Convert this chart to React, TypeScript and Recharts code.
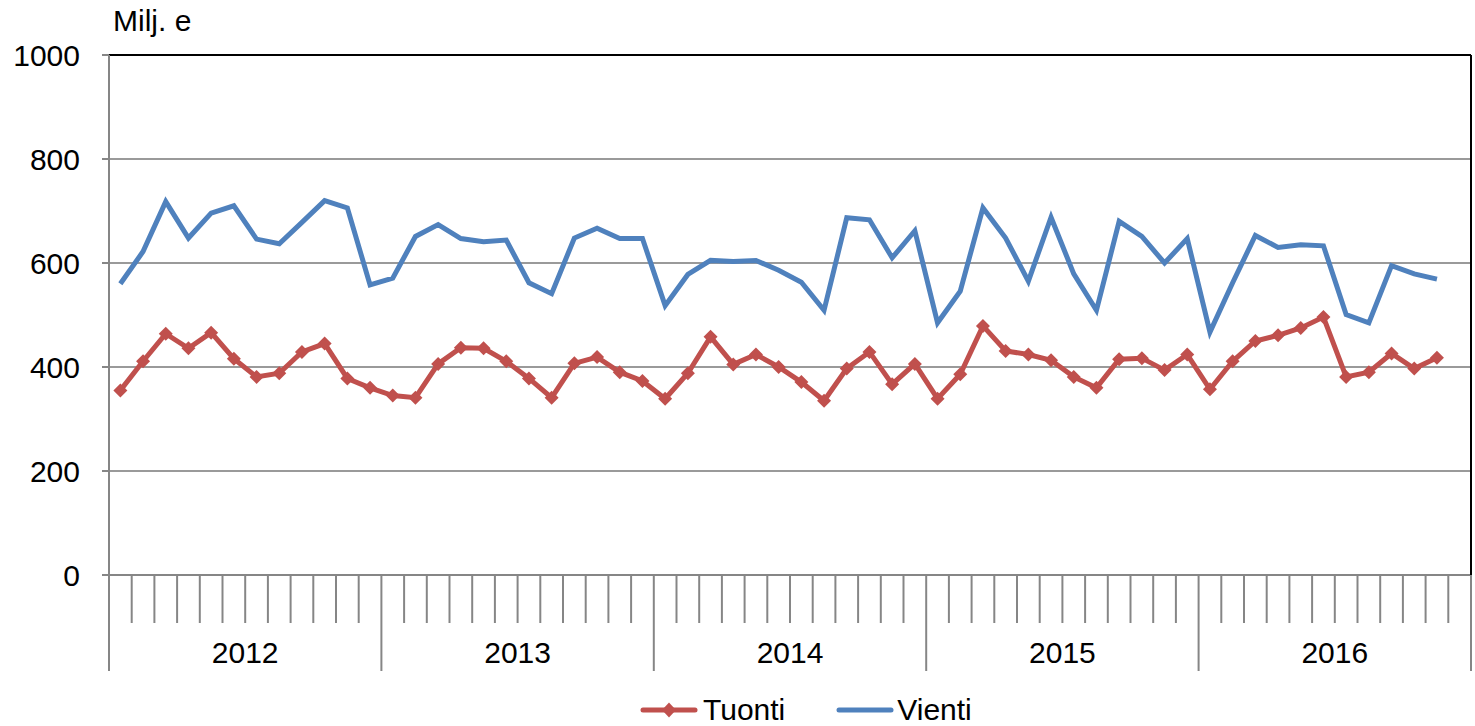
import { CartesianGrid, Legend, Line, LineChart, ReferenceLine, XAxis, YAxis } from "recharts";

const years = ["2012", "2013", "2014", "2015", "2016"];

// months Jan 2012 .. Dec 2016 (last one has no data yet)
const months = years.flatMap((y) =>
  ["01", "02", "03", "04", "05", "06", "07", "08", "09", "10", "11", "12"].map((m) => `${y}-${m}`)
);

const tuonti = [
  355, 411, 464, 436, 466, 416, 381, 388, 429, 445, 378, 360,
  345, 341, 406, 437, 436, 411, 378, 341, 407, 419, 390, 373,
  339, 388, 458, 405, 424, 400, 371, 335, 397, 429, 367, 406,
  339, 386, 479, 431, 424, 413, 381, 360, 415, 417, 394, 424,
  357, 411, 450, 461, 475, 496, 381, 390, 426, 397, 418,
];

const vienti = [
  560, 622, 718, 648, 696, 710, 646, 637, 678, 720, 706, 558,
  571, 651, 674, 647, 641, 644, 562, 541, 648, 667, 647, 647,
  518, 578, 605, 603, 605, 586, 563, 509, 687, 683, 610, 662,
  485, 546, 706, 648, 565, 688, 579, 509, 680, 651, 600, 647,
  467, 562, 653, 630, 635, 633, 501, 485, 595, 579, 569,
];

const yTicks = [0, 200, 400, 600, 800, 1000];

const data = months.map((m, i) => ({
  month: m,
  tuonti: i < tuonti.length ? tuonti[i] : null,
  vienti: i < vienti.length ? vienti[i] : null,
}));

const W = 1475;
const H = 726;
const LEFT = 109;
const RIGHT = 4;
const BAND = (W - LEFT - RIGHT) / months.length;
const FONT = "'Liberation Sans', Arial, sans-serif";
const RED = "#C0504D";
const BLUE = "#4F81BD";
const AXIS = "#868686";

const MonthTick = (props: any) => {
  const { x, y, index } = props;
  const left = x - BAND / 2;
  const isYearStart = index % 12 === 0;
  return (
    <g>
      <line x1={left} x2={left} y1={y} y2={y + (isYearStart ? 96 : 48)} stroke={AXIS} strokeWidth={2} />
      {index === months.length - 1 && (
        <line x1={x + BAND / 2} x2={x + BAND / 2} y1={y} y2={y + 96} stroke={AXIS} strokeWidth={2} />
      )}
      {index % 12 === 5 && (
        <text x={x + BAND / 2} y={y + 88} textAnchor="middle" fontSize={30} fontFamily={FONT} fill="#000">
          {years[Math.floor(index / 12)]}
        </text>
      )}
    </g>
  );
};

const Diamond = (props: any) => {
  const { cx, cy } = props;
  if (cx == null || cy == null) return null;
  const r = 7;
  return (
    <polygon
      key={props.index}
      points={`${cx},${cy - r} ${cx + r},${cy} ${cx},${cy + r} ${cx - r},${cy}`}
      fill={RED}
    />
  );
};

const renderLegend = () => (
  <div
    style={{
      display: "flex",
      alignItems: "center",
      marginLeft: 640,
      paddingTop: 7,
      lineHeight: "34px",
      fontFamily: FONT,
      fontSize: 30,
    }}
  >
    <svg width={58} height={20}>
      <line x1={3} x2={55} y1={10} y2={10} stroke={RED} strokeWidth={5} strokeLinecap="round" />
      <polygon points="29,2.5 36,10 29,17.5 22,10" fill={RED} />
    </svg>
    <span style={{ marginLeft: 5 }}>Tuonti</span>
    <svg width={58} height={20} style={{ marginLeft: 51 }}>
      <line x1={3} x2={55} y1={10} y2={10} stroke={BLUE} strokeWidth={5} strokeLinecap="round" />
    </svg>
    <span style={{ marginLeft: 3 }}>Vienti</span>
  </div>
);

const App = () => {
  return (
    <div style={{ position: "absolute", left: 0, top: 0, width: W, height: H, background: "#fff" }}>
      <div style={{ position: "absolute", left: 113, top: 4, fontFamily: FONT, fontSize: 30 }}>Milj. e</div>
      <LineChart width={W} height={H} data={data} margin={{ top: 55, right: 0, left: 0, bottom: 0 }}>
        <CartesianGrid vertical={false} stroke="#9A9A9A" strokeWidth={2} />
        <XAxis
          dataKey="month"
          scale="band"
          interval={0}
          height={111}
          tickSize={0}
          tickMargin={0}
          tickLine={false}
          axisLine={{ stroke: AXIS, strokeWidth: 2 }}
          tick={<MonthTick />}
        />
        <YAxis
          width={LEFT}
          domain={[0, 1000]}
          ticks={yTicks}
          tickSize={7}
          tickMargin={22}
          axisLine={{ stroke: AXIS, strokeWidth: 2 }}
          tickLine={{ stroke: AXIS, strokeWidth: 2 }}
          tick={{ fill: "#000", fontSize: 30, fontFamily: FONT }}
        />
        <YAxis
          yAxisId="r"
          orientation="right"
          width={RIGHT}
          domain={[0, 1000]}
          tick={false}
          tickLine={false}
          axisLine={{ stroke: "#000", strokeWidth: 2 }}
        />
        <ReferenceLine y={1000} stroke="#000" strokeWidth={2} />
        <Legend verticalAlign="bottom" height={40} content={renderLegend} wrapperStyle={{ left: 0, width: W }} />
        <Line
          dataKey="tuonti"
          stroke={RED}
          strokeWidth={5}
          dot={<Diamond />}
          activeDot={false}
          isAnimationActive={false}
          connectNulls={false}
        />
        <Line
          dataKey="vienti"
          stroke={BLUE}
          strokeWidth={5}
          dot={false}
          activeDot={false}
          isAnimationActive={false}
        />
      </LineChart>
    </div>
  );
};

export default App;
